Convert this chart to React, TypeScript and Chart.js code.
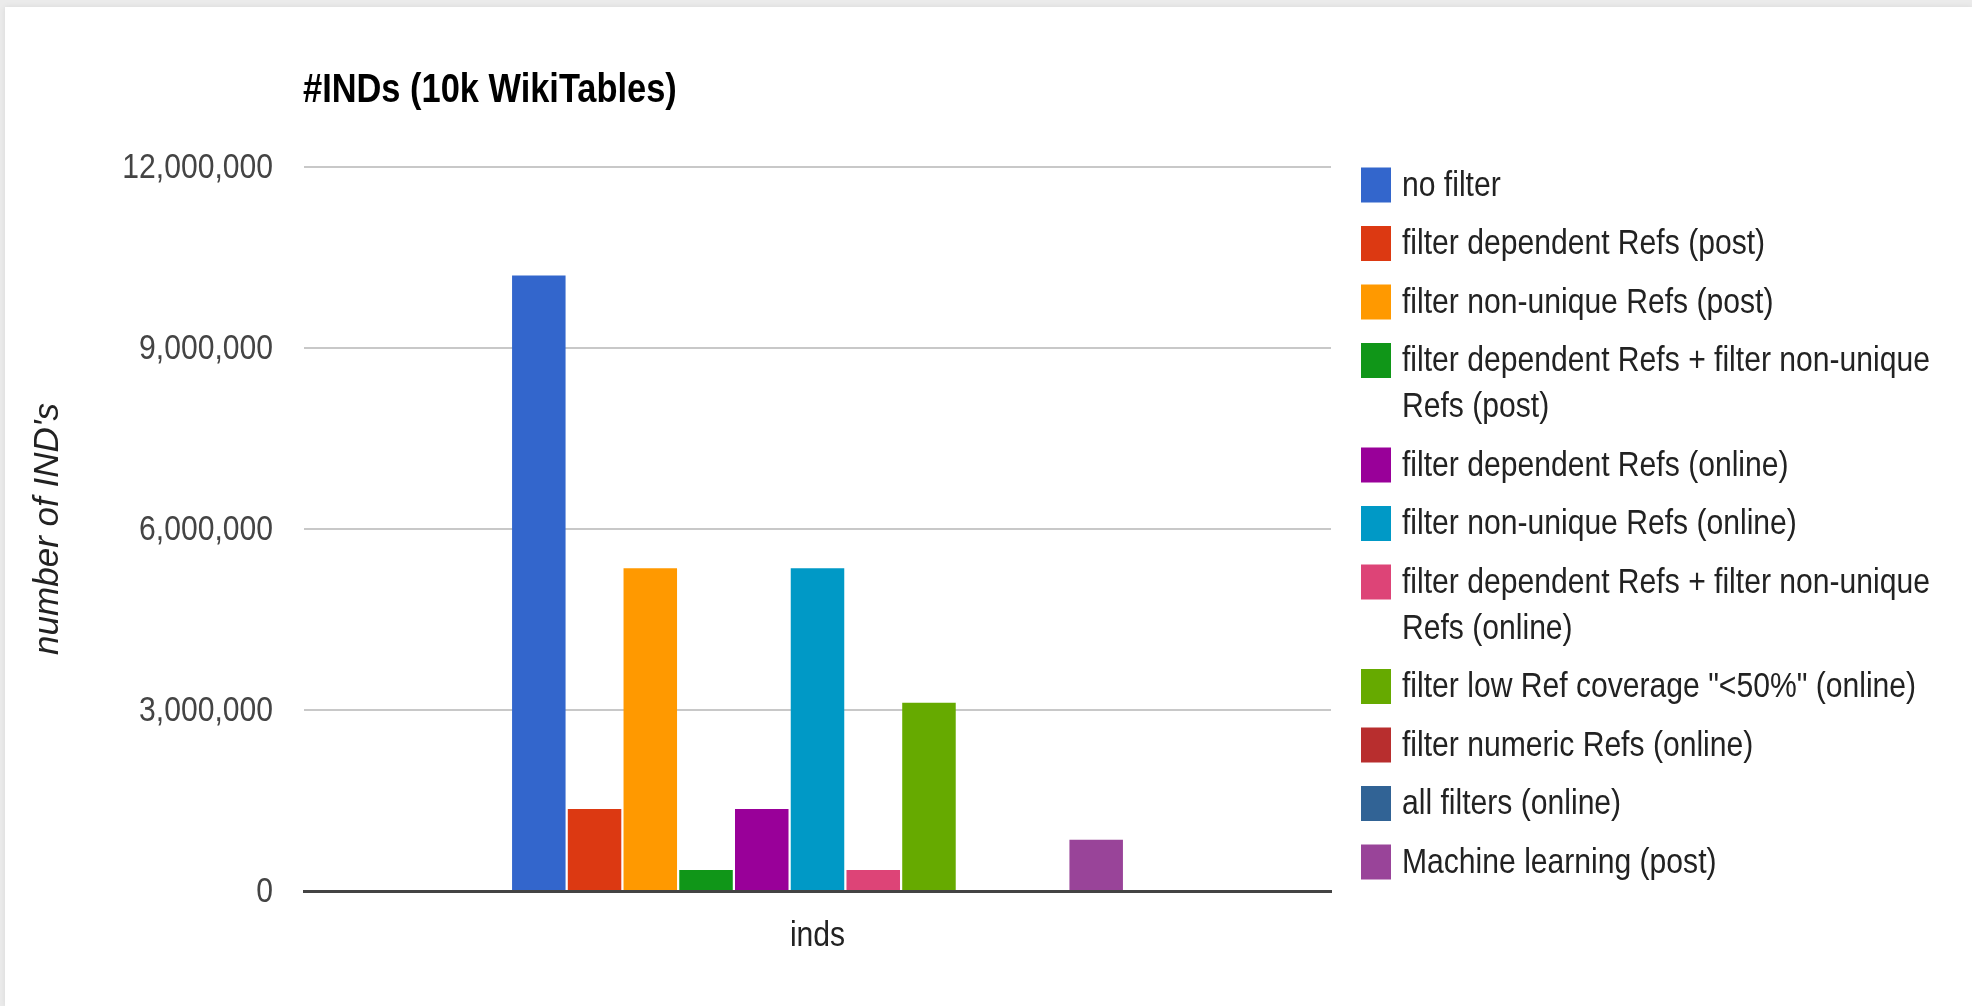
import { useEffect, useRef } from 'react';
import { Chart, registerables } from 'chart.js';

Chart.register(...registerables);

const categories = ['inds'];

const seriesNames = [
  'no filter',
  'filter dependent Refs (post)',
  'filter non-unique Refs (post)',
  'filter dependent Refs + filter non-unique Refs (post)',
  'filter dependent Refs (online)',
  'filter non-unique Refs (online)',
  'filter dependent Refs + filter non-unique Refs (online)',
  'filter low Ref coverage "<50%" (online)',
  'filter numeric Refs (online)',
  'all filters (online)',
  'Machine learning (post)',
];

const seriesValues = [
  10200000, 1360000, 5350000, 350000, 1360000, 5350000, 350000, 3120000, 0, 0, 850000,
];

const seriesColors = [
  '#3366cc', '#dc3912', '#ff9900', '#109618', '#990099', '#0099c6',
  '#dd4477', '#66aa00', '#b82e2e', '#316395', '#994499',
];

const yTicks = [0, 3000000, 6000000, 9000000, 12000000];

const chartTitle = '#INDs (10k WikiTables)';
const yAxisTitle = "number of IND's";

const SANS = "'Liberation Sans', Arial, sans-serif";
const NARROW_K = 0.86; // horizontal condensing of the narrow text

function formatTick(v: number): string {
  return Number(v).toLocaleString('en-US');
}

function narrowText(
  ctx: CanvasRenderingContext2D,
  text: string,
  x: number,
  y: number,
  align: CanvasTextAlign,
) {
  ctx.save();
  ctx.translate(x, y);
  ctx.scale(NARROW_K, 1);
  ctx.textAlign = align;
  ctx.fillText(text, 0, 0);
  ctx.restore();
}

function wrapText(ctx: CanvasRenderingContext2D, text: string, maxWidth: number): string[] {
  const words = text.split(' ');
  const lines: string[] = [];
  let cur = '';
  for (const w of words) {
    const test = cur ? cur + ' ' + w : w;
    if (cur && ctx.measureText(test).width * NARROW_K > maxWidth) {
      lines.push(cur);
      cur = w;
    } else {
      cur = test;
    }
  }
  if (cur) lines.push(cur);
  return lines;
}

const overlayPlugin = {
  id: 'overlay',
  afterDraw(chart: any) {
    const ctx: CanvasRenderingContext2D = chart.ctx;
    const area = chart.chartArea;
    ctx.save();

    // title
    ctx.fillStyle = '#000000';
    ctx.font = `bold 40px ${SANS}`;
    ctx.textBaseline = 'alphabetic';
    narrowText(ctx, chartTitle, area.left - 1, 102, 'left');

    // y tick labels
    const ys = chart.scales.y;
    ctx.fillStyle = '#444444';
    ctx.font = `35px ${SANS}`;
    ctx.textBaseline = 'middle';
    ys.ticks.forEach((t: any) => {
      narrowText(ctx, formatTick(t.value), area.left - 31, ys.getPixelForValue(t.value) + 1, 'right');
    });

    // x category labels
    const xs = chart.scales.x;
    ctx.fillStyle = '#222222';
    ctx.textBaseline = 'alphabetic';
    categories.forEach((c, i) => {
      narrowText(ctx, c, xs.getPixelForValue(i), 946, 'center');
    });

    // legend
    const boxX = area.right + 30;
    const textX = boxX + 41;
    let y = 185;
    ctx.font = `35px ${SANS}`;
    chart.data.datasets.forEach((ds: any) => {
      const lines = wrapText(ctx, ds.label, 560);
      ctx.fillStyle = ds.backgroundColor;
      ctx.fillRect(boxX, y - 17.5, 30, 35);
      ctx.fillStyle = '#222222';
      ctx.textBaseline = 'middle';
      lines.forEach((ln, i) => narrowText(ctx, ln, textX, y + 1 + i * 46, 'left'));
      y += 58.5 + 46 * (lines.length - 1);
    });
    ctx.restore();
  },
};

export default function App() {
  const canvasRef = useRef<HTMLCanvasElement | null>(null);

  useEffect(() => {
    document.body.style.margin = '0';
    const canvas = canvasRef.current;
    if (!canvas) return;
    const chart = new Chart(canvas, {
      type: 'bar',
      data: {
        labels: categories,
        datasets: seriesNames.map((name, i) => ({
          label: name,
          data: [seriesValues[i]],
          backgroundColor: seriesColors[i],
          borderWidth: 0,
          categoryPercentage: 0.597,
          barPercentage: 0.96,
        })),
      },
      options: {
        animation: false,
        responsive: true,
        maintainAspectRatio: false,
        devicePixelRatio: 1,
        layout: { padding: { left: 0, top: 167, right: 641, bottom: 0 } },
        plugins: {
          legend: { display: false },
          title: { display: false },
          tooltip: { enabled: false },
        },
        scales: {
          x: {
            grid: { display: false, drawTicks: false },
            border: { display: true, color: '#444444', width: 3 },
            ticks: { display: false },
            afterFit: (s: any) => {
              s.height = 115;
            },
          },
          y: {
            min: 0,
            max: 12000000,
            afterBuildTicks: (s: any) => {
              s.ticks = yTicks.map((v) => ({ value: v }));
            },
            grid: {
              drawTicks: false,
              lineWidth: 2,
              color: (c: any) => (c.tick && c.tick.value === 0 ? 'rgba(0,0,0,0)' : '#c8c8c8'),
            },
            border: { display: false },
            ticks: { display: false },
            title: {
              display: true,
              text: yAxisTitle,
              color: '#222222',
              font: { family: SANS, size: 35, style: 'italic' },
              padding: { top: 27, bottom: 0 },
            },
            afterFit: (s: any) => {
              s.width = 304;
            },
          },
        },
      },
      plugins: [overlayPlugin],
    });
    return () => chart.destroy();
  }, []);

  return (
    <div
      style={{
        position: 'fixed',
        left: 0,
        top: 0,
        width: 1972,
        height: 1006,
        background: '#ebebeb',
        overflow: 'hidden',
      }}
    >
      <div
        style={{
          position: 'absolute',
          left: 5,
          top: 7,
          right: 0,
          bottom: 0,
          background: '#ffffff',
          boxShadow: '0 0 6px rgba(0,0,0,0.08)',
        }}
      />
      <div style={{ position: 'absolute', left: 0, top: 0, width: 1972, height: 1006 }}>
        <canvas ref={canvasRef} />
      </div>
    </div>
  );
}
